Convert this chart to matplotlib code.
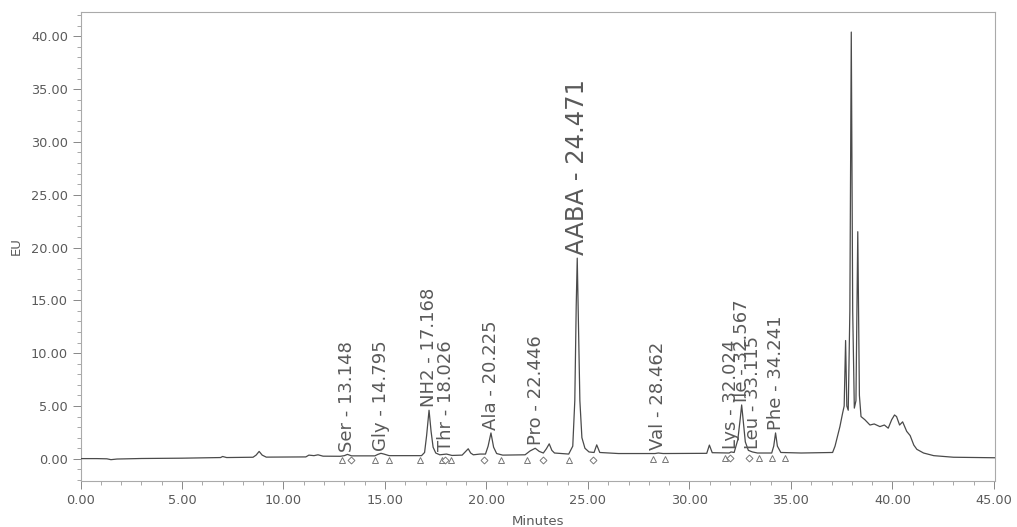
import matplotlib
matplotlib.use("Agg")
import matplotlib.pyplot as plt
from matplotlib.ticker import MultipleLocator, FormatStrFormatter

# ---- data ----
trace_t = [0.0, 0.8, 1.3, 1.5, 1.8, 3.0, 5.0, 6.9, 7.0, 7.2, 8.5, 8.65, 8.8, 8.95, 9.15,
           11.1, 11.25, 11.5, 11.7, 11.95, 12.8, 13.0, 13.15, 13.35, 14.5, 14.65, 14.8, 14.95, 15.2,
           16.8, 16.95, 17.05, 17.17, 17.27, 17.37, 17.5, 17.7, 18.03, 18.3, 18.8, 18.95, 19.1,
           19.22, 19.35, 19.68, 19.95, 20.08, 20.22, 20.35, 20.5, 20.8, 21.9, 22.15, 22.4, 22.6,
           22.8, 22.95, 23.09, 23.22, 23.35, 24.05, 24.25, 24.35, 24.42, 24.47, 24.53, 24.6, 24.7,
           24.85, 25.05, 25.3, 25.43, 25.58, 26.5, 28.3, 28.46, 28.7, 30.85, 30.98, 31.12, 31.95,
           32.05, 32.2, 32.38, 32.5, 32.57, 32.65, 32.75, 32.9, 33.1, 33.35, 34.05, 34.15, 34.24,
           34.33, 34.5, 35.5, 37.05, 37.17, 37.3, 37.41, 37.54, 37.62, 37.69, 37.75, 37.82, 37.9,
           37.97, 38.04, 38.12, 38.2, 38.29, 38.37, 38.45, 38.64, 38.89, 39.1, 39.38, 39.6, 39.79,
           39.96, 40.1, 40.2, 40.35, 40.5, 40.7, 40.87, 41.05, 41.2, 41.53, 42.03, 43.0, 45.05]
trace_eu = [0.02, 0.02, 0.0, -0.08, -0.02, 0.03, 0.06, 0.12, 0.22, 0.12, 0.15, 0.35, 0.7, 0.35, 0.16,
            0.18, 0.35, 0.3, 0.38, 0.25, 0.24, 0.3, 0.42, 0.28, 0.28, 0.42, 0.52, 0.45, 0.3,
            0.3, 0.6, 2.2, 4.6, 2.6, 1.1, 0.55, 0.38, 0.45, 0.32, 0.35, 0.65, 0.95,
            0.55, 0.38, 0.45, 0.45, 1.2, 2.45, 1.1, 0.5, 0.35, 0.38, 0.75, 1.0, 0.7,
            0.55, 0.95, 1.42, 0.8, 0.55, 0.45, 1.2, 5.5, 14.5, 19.0, 13.0, 5.5, 2.0,
            1.0, 0.65, 0.6, 1.32, 0.6, 0.5, 0.5, 0.55, 0.5, 0.52, 1.3, 0.58, 0.55,
            0.65, 0.6, 1.8, 3.8, 5.1, 3.5, 1.6, 0.8, 0.65, 0.55, 0.55, 1.2, 2.45,
            1.2, 0.6, 0.55, 0.6, 1.2, 2.2, 3.05, 4.3, 5.0, 11.2, 5.0, 4.6, 14.0,
            40.4, 14.0, 4.8, 5.5, 21.5, 6.0, 4.0, 3.7, 3.2, 3.3, 3.05, 3.2, 2.9,
            3.7, 4.15, 4.0, 3.2, 3.5, 2.6, 2.2, 1.3, 0.9, 0.55, 0.3, 0.15, 0.1]

peak_names = ["Ser", "Gly", "NH2", "Thr", "Ala", "Pro", "AABA", "Val", "Lys", "Ile", "Leu", "Phe"]
peak_rts = [13.148, 14.795, 17.168, 18.026, 20.225, 22.446, 24.471, 28.462, 32.024, 32.567, 33.115, 34.241]
peak_heights = [0.42, 0.52, 4.6, 0.45, 2.45, 1.0, 19.0, 0.55, 0.65, 5.1, 0.65, 2.45]

tri_t = [12.87, 14.51, 15.21, 16.73, 17.79, 18.24, 20.72, 21.98, 24.08, 28.2, 28.8, 31.76, 33.4, 34.06, 34.72]
tri_eu = [-0.15, -0.15, -0.15, -0.15, -0.15, -0.15, -0.1, -0.1, -0.1, 0.0, 0.0, 0.05, 0.05, 0.05, 0.05]
dia_t = [13.31, 17.95, 19.87, 22.8, 25.26, 32.0, 32.91]
dia_eu = [-0.15, -0.15, -0.1, -0.1, -0.1, 0.05, 0.05]

x_ticks = [0, 5, 10, 15, 20, 25, 30, 35, 40, 45]
y_ticks = [0, 5, 10, 15, 20, 25, 30, 35, 40]

# ---- styling (not data) ----
label_sizes = {"AABA": 17.5}
default_label_size = 13

W, H = 1017, 527
plt.rcParams["font.family"] = ["DejaVu Sans"]
fig = plt.figure(figsize=(W / 100, H / 100), dpi=100)
ax = fig.add_axes([80.5 / W, 1 - 481 / H, (995 - 80.5) / W, (481 - 12) / H])

txt = "#5a5a5a"
ax.plot(trace_t, trace_eu, color="#4a4a4a", lw=0.9, zorder=3)
ax.plot(tri_t, tri_eu, ls="none", marker="^", ms=4.4, mfc="white", mec="#777777", mew=0.7, zorder=4)
ax.plot(dia_t, dia_eu, ls="none", marker="D", ms=3.5, mfc="white", mec="#777777", mew=0.7, zorder=4)

for name, rt, h in zip(peak_names, peak_rts, peak_heights):
    ax.annotate(f"{name} - {rt:.3f}", xy=(rt, h), xytext=(0, 2), textcoords="offset points",
                rotation=90, ha="center", va="bottom",
                fontsize=label_sizes.get(name, default_label_size), color=txt, zorder=5)

ax.set_xlim(0, 45.05)
ax.set_ylim(-2.1, 42.3)
ax.set_xticks(x_ticks)
ax.set_yticks(y_ticks)
ax.xaxis.set_major_formatter(FormatStrFormatter("%.2f"))
ax.yaxis.set_major_formatter(FormatStrFormatter("%.2f"))
ax.xaxis.set_minor_locator(MultipleLocator(1))
ax.yaxis.set_minor_locator(MultipleLocator(1))
ax.tick_params(which="major", direction="out", length=6, width=0.7, color="#888888",
               labelsize=9.3, labelcolor=txt, pad=3)
ax.tick_params(which="minor", direction="out", length=3, width=0.6, color="#999999")
for s in ax.spines.values():
    s.set_color("#aaaaaa")
    s.set_linewidth(0.8)

ax.set_xlabel("Minutes", fontsize=9.5, color=txt, labelpad=6)
ax.set_ylabel("EU", fontsize=9.5, color=txt, labelpad=6)

fig.savefig("out.png", dpi=100)
